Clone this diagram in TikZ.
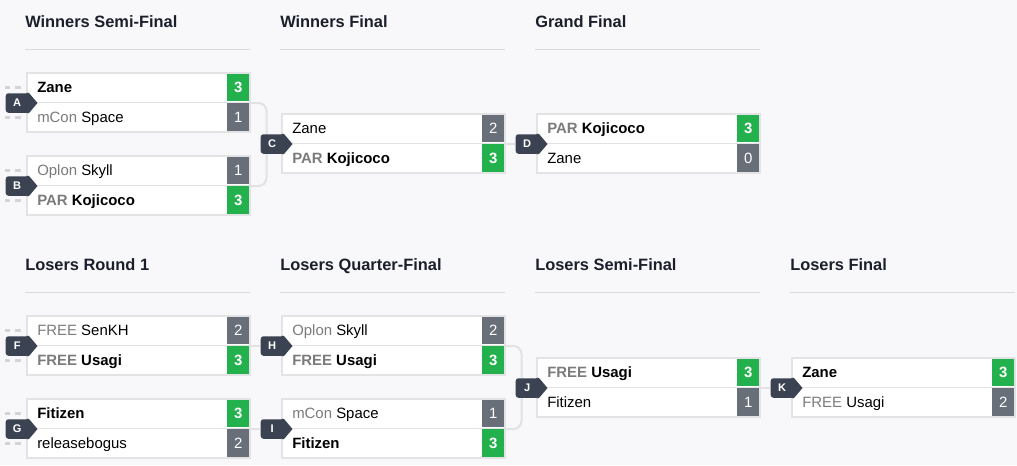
\documentclass[tikz,border=0pt]{standalone}
\usepackage{fontspec}
\setmainfont{Liberation Sans}
\def\px{0.75pt}
\definecolor{pagebg}{HTML}{F8F8FA}
\definecolor{headtext}{HTML}{1A1F2B}
\definecolor{rulegray}{HTML}{D9D9DE}
\definecolor{framegray}{HTML}{E3E3E6}
\definecolor{linkgray}{HTML}{E2E2E5}
\definecolor{stubgray}{HTML}{D4D4D8}
\definecolor{wingreen}{HTML}{22B14C}
\definecolor{losegray}{HTML}{686F79}
\definecolor{badge}{HTML}{3B4252}
\definecolor{orggray}{HTML}{7B7B7B}
\tikzset{
  slot/.style={draw=framegray, line width=1.5*\px, fill=white, minimum width=223*\px, minimum height=29.5*\px, inner sep=0pt},
  team/.style={font=\fontsize{11.2}{13}\selectfont, text=black, inner sep=0pt},
  won/.style={fill=wingreen, text=white, font=\fontsize{11.2}{13}\selectfont\bfseries, minimum width=22*\px, minimum height=27.5*\px, inner sep=0pt},
  lost/.style={won, fill=losegray, font=\fontsize{11.2}{13}\selectfont},
  tag/.style={fill=badge, text=white, font=\fontsize{8.3}{9}\selectfont\bfseries, minimum width=23*\px, minimum height=19.5*\px, inner sep=0pt, rounded corners=2pt},
  link/.style={draw=linkgray, line width=1.5pt},
  stub/.style={draw=stubgray, line width=2.25pt, dash pattern=on 4.5pt off 3.75pt},
  heading/.style={font=\fontsize{12.3}{14}\selectfont\bfseries, text=headtext, inner sep=0pt},
  rule/.style={draw=rulegray, line width=0.75pt},
}
\newcommand{\org}[1]{\textcolor{orggray}{#1}}
\newcommand{\teamrow}[5]{%
  \node[slot, anchor=north west] (#1) at (#2) {};
  \node[team, anchor=base west] (#1n) at ([xshift=11*\px, yshift=-5*\px]#1.west) {#3};
  \node[#5, anchor=east] (#1s) at ([xshift=-1*\px]#1.east) {#4};
}

\begin{document}
\begin{tikzpicture}[x=0.75pt, y=-0.75pt]
			%%%%% START %%%%%
			\useasboundingbox (0,0) rectangle (1017,465);
			\fill[pagebg] (0,0) rectangle (1017,465);
			
			% round titles
			\node[heading, anchor=base west] (wsf) at (25,27.5) {Winners Semi-Final};
			\node[heading, anchor=base west] (wf) at (280,27.5) {Winners Final};
			\node[heading, anchor=base west] (gf) at (535,27.5) {Grand Final};
			\node[heading, anchor=base west] (lr1) at (25,270.5) {Losers Round 1};
			\node[heading, anchor=base west] (lqf) at (280,270.5) {Losers Quarter-Final};
			\node[heading, anchor=base west] (lsf) at (535,270.5) {Losers Semi-Final};
			\node[heading, anchor=base west] (lf) at (790,270.5) {Losers Final};
			\foreach \x in {25,280,535} \draw[rule] (\x,49) -- ++(225,0);
			\foreach \x in {25,280,535,790} \draw[rule] (\x,292) -- ++(225,0);
			
			% winners bracket
			\teamrow{A1}{26,72}{\bfseries Zane}{3}{won}
			\teamrow{A2}{26,101.5}{\org{mCon} Space}{1}{lost}
			\teamrow{B1}{26,155}{\org{Oplon} Skyll}{1}{lost}
			\teamrow{B2}{26,184.5}{\bfseries\org{PAR} Kojicoco}{3}{won}
			\teamrow{C1}{281,113}{Zane}{2}{lost}
			\teamrow{C2}{281,142.5}{\bfseries\org{PAR} Kojicoco}{3}{won}
			\teamrow{D1}{536,113}{\bfseries\org{PAR} Kojicoco}{3}{won}
			\teamrow{D2}{536,142.5}{Zane}{0}{lost}
			
			% losers bracket
			\teamrow{F1}{26,315}{\org{FREE} SenKH}{2}{lost}
			\teamrow{F2}{26,344.5}{\bfseries\org{FREE} Usagi}{3}{won}
			\teamrow{G1}{26,398}{\bfseries Fitizen}{3}{won}
			\teamrow{G2}{26,427.5}{releasebogus}{2}{lost}
			\teamrow{H1}{281,315}{\org{Oplon} Skyll}{2}{lost}
			\teamrow{H2}{281,344.5}{\bfseries\org{FREE} Usagi}{3}{won}
			\teamrow{I1}{281,398}{\org{mCon} Space}{1}{lost}
			\teamrow{I2}{281,427.5}{\bfseries Fitizen}{3}{won}
			\teamrow{J1}{536,357}{\bfseries\org{FREE} Usagi}{3}{won}
			\teamrow{J2}{536,386.5}{Fitizen}{1}{lost}
			\teamrow{K1}{791,357}{\bfseries Zane}{3}{won}
			\teamrow{K2}{791,386.5}{\org{FREE} Usagi}{2}{lost}
			
			\draw[link, rounded corners=6pt] (A1.south east) -- ++(16,0) |- (B1.south east);
			\draw[link, rounded corners=6pt] (H1.south east) -- ++(16,0) |- (I1.south east);
			\foreach \r in {A1,A2,B1,B2,F1,F2,G1,G2}
				\draw[stub] ([xshift=-5*\px]\r.west) -- ++(-16,0);
			
			% match letters
			\foreach \m in {A,B,C,D,F,G,H,I,J,K} {
				\node[tag, anchor=east] (\m) at ([xshift=3*\px]\m1.south west) {\m};
				\fill[badge] ([xshift=-2pt]\m.north east) -- (\m.north east) -- ([xshift=8.5*\px]\m.east) -- (\m.south east) -- ([xshift=-2pt]\m.south east) -- cycle;
			}
			
			\draw[link] (C1.south east) -- (D.west);
			\draw[link] (F1.south east) -- (H.west);
			\draw[link] (G1.south east) -- (I.west);
			\draw[link] (J1.south east) -- (K.west);
			%%%%% END %%%%%
\end{tikzpicture}
\end{document}
